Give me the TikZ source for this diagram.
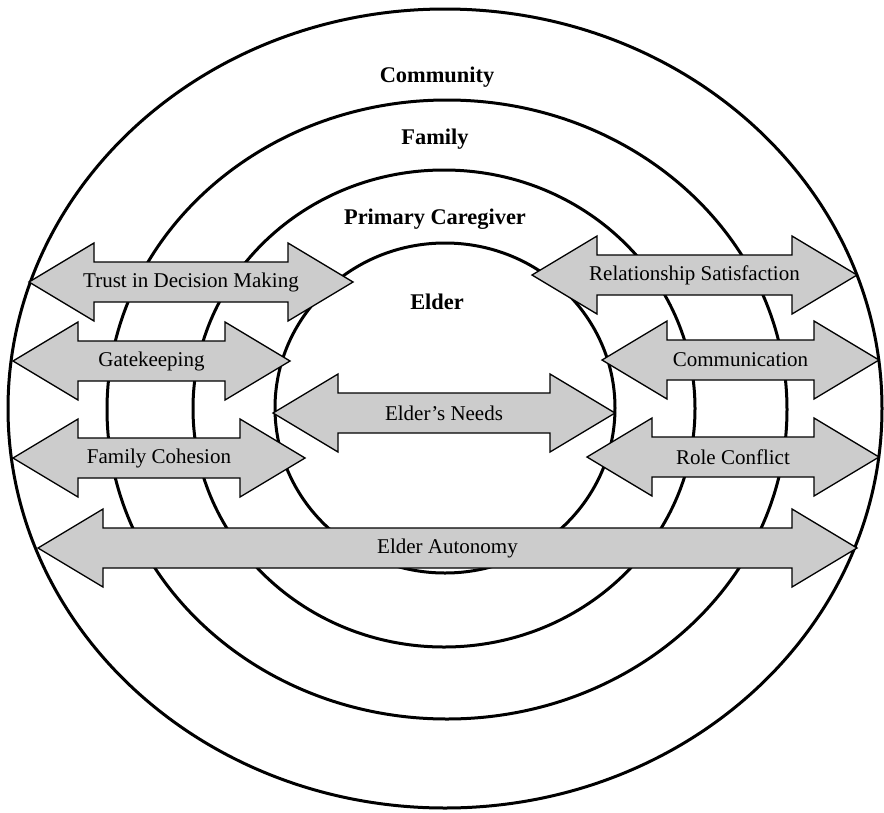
\documentclass[tikz,border=0pt]{standalone}
\usepackage{fontspec}
\setmainfont{Liberation Serif}
\definecolor{arrowgray}{RGB}{204,204,204}
\tikzset{
  ring/.style={draw=black, line width=3pt},
  arrowbox/.style={draw=black, fill=arrowgray, line width=1.3pt, line join=miter},
  lbl/.style={inner sep=0pt, font=\fontsize{21}{25}\selectfont},
  ringlbl/.style={inner sep=0pt, font=\fontsize{22.4}{26}\selectfont\bfseries}
}
\newcommand\dblarr[5]{%
  \draw[arrowbox] (#2,#4) -- (#2+65,#4-39) -- (#2+65,#4-20) -- (#3-65,#4-20)
    -- (#3-65,#4-39) -- (#3,#4) -- (#3-65,#4+39) -- (#3-65,#4+20)
    -- (#2+65,#4+20) -- (#2+65,#4+39) -- cycle;
  \node[lbl] (#1) at ({(#2+#3)/2},#4) {#5};
}
\begin{document}
\begin{tikzpicture}[x=1pt,y=-1pt]
\useasboundingbox (0,0) rectangle (884,812);
% rings
\draw[ring] (445,408.5) ellipse [x radius=437, y radius=399.5];
\draw[ring] (447,409.5) ellipse [x radius=340, y radius=309.5];
\draw[ring] (444,408.5) ellipse [x radius=251, y radius=238.5];
\draw[ring] (445,408) ellipse [x radius=170, y radius=165];
% ring labels
\node[ringlbl] (community) at (437,77) {Community};
\node[ringlbl] (family) at (435,139) {Family};
\node[ringlbl] (caregiver) at (435,219) {Primary Caregiver};
\node[ringlbl] (elder) at (437,302) {Elder};
% double arrows
\dblarr{trust}{29}{353}{282}{Trust in Decision Making}
\dblarr{relsat}{532}{857}{275}{Relationship Satisfaction}
\dblarr{gate}{13}{290}{361}{Gatekeeping}
\dblarr{comm}{602}{879}{360}{Communication}
\dblarr{needs}{273}{615}{413}{Elder’s Needs}
\dblarr{cohes}{13}{305}{458}{Family Cohesion}
\dblarr{role}{587}{879}{457}{Role Conflict}
\dblarr{auto}{38}{857}{548}{Elder Autonomy}
\end{tikzpicture}
\end{document}
